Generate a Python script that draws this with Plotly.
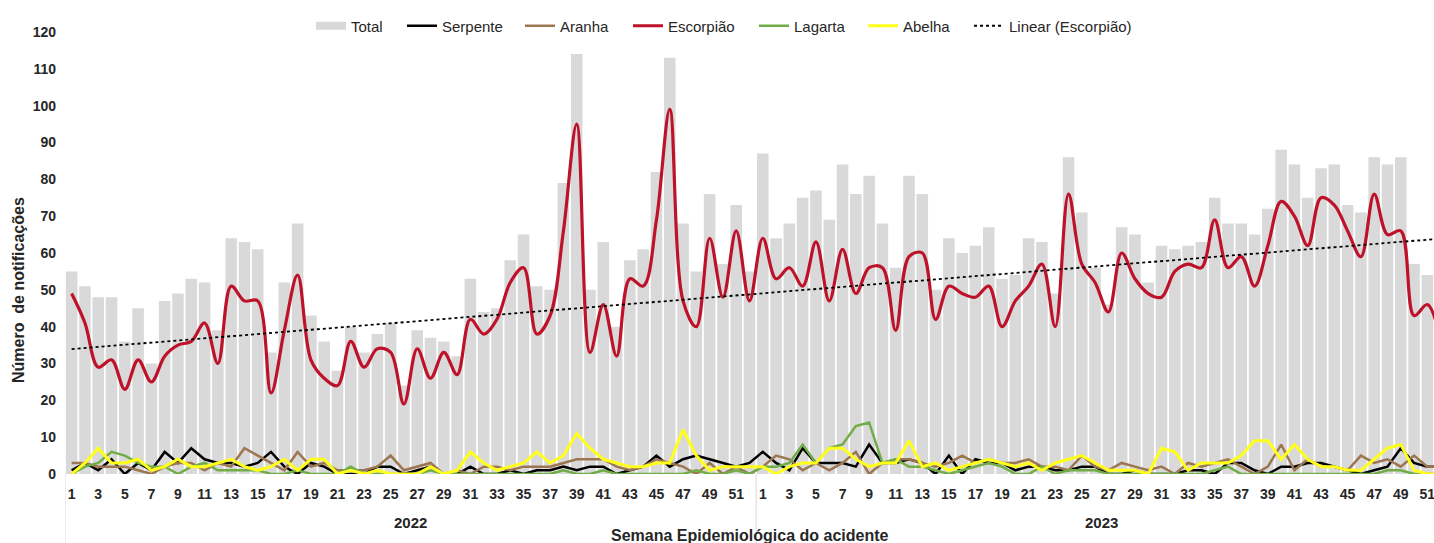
import numpy as np
import plotly.graph_objects as go

# ---------------- data ----------------
years = ["2022"] * 52 + ["2023"] * 52
weeks = list(range(1, 53)) + list(range(1, 53))

total = [55, 51, 48, 48, 36, 45, 30, 47, 49, 53,
         52, 39, 64, 63, 61, 33, 52, 68, 43, 36,
         28, 40, 33, 38, 41, 24, 39, 37, 36, 32,
         53, 44, 45, 58, 65, 51, 50, 79, 114, 50,
         63, 40, 58, 61, 82, 113, 68, 55, 76, 57,
         73, 55,
         87, 64, 68, 75, 77, 69, 84, 76, 81, 68,
         56, 81, 76, 50, 64, 60, 62, 67, 53, 54,
         64, 63, 49, 86, 71, 56, 46, 67, 65, 52,
         62, 61, 62, 63, 75, 68, 68, 65, 72, 88,
         84, 75, 83, 84, 73, 71, 86, 84, 86, 57,
         54, 50]

serpente = [1, 3, 1, 4, 0, 3, 1, 6, 3, 7,
            4, 3, 3, 2, 3, 6, 2, 0, 3, 2,
            0, 0, 0, 2, 2, 0, 1, 2, 0, 0,
            2, 0, 0, 1, 0, 1, 1, 2, 1, 2,
            2, 0, 1, 2, 5, 2, 4, 5, 4, 3,
            2, 3,
            6, 3, 1, 7, 3, 3, 3, 2, 8, 3,
            3, 4, 3, 0, 5, 0, 4, 3, 3, 1,
            2, 2, 1, 1, 2, 2, 0, 0, 1, 0,
            0, 0, 1, 1, 0, 3, 3, 1, 0, 2,
            2, 3, 3, 2, 1, 0, 1, 2, 7, 3,
            2, 2]

aranha = [3, 3, 2, 2, 2, 1, 0, 2, 3, 3,
          1, 3, 2, 7, 5, 3, 1, 6, 2, 3,
          1, 1, 1, 2, 5, 1, 2, 3, 0, 1,
          0, 2, 2, 1, 2, 2, 2, 3, 4, 4,
          4, 2, 1, 2, 4, 3, 2, 0, 3, 0,
          2, 0,
          2, 5, 4, 1, 3, 1, 3, 6, 0, 3,
          4, 4, 3, 2, 3, 5, 3, 4, 3, 3,
          4, 2, 2, 1, 5, 2, 1, 3, 2, 1,
          2, 0, 3, 2, 3, 4, 2, 0, 2, 8,
          1, 4, 2, 2, 1, 5, 3, 4, 2, 5,
          2, 2]

escorpiao = [49, 41, 29, 31, 23, 31, 25, 32, 35, 36,
             41, 30, 51, 47, 47, 22, 39, 54, 31, 26,
             24, 36, 29, 34, 33, 19, 34, 26, 33, 27,
             42, 38, 42, 52, 56, 38, 43, 66, 95, 33,
             46, 32, 53, 51, 69, 99, 47, 40, 64, 48,
             66, 47,
             64, 53, 56, 51, 63, 47, 61, 49, 56, 56,
             39, 59, 60, 42, 51, 49, 48, 51, 40, 47,
             51, 57, 40, 76, 57, 52, 44, 60, 53, 49,
             48, 55, 57, 56, 69, 56, 59, 51, 62, 74,
             70, 62, 75, 73, 66, 59, 76, 65, 66, 43,
             46, 36]

lagarta = [0, 2, 3, 6, 5, 3, 2, 2, 0, 2,
           3, 1, 1, 1, 1, 0, 0, 1, 0, 0,
           0, 2, 0, 0, 0, 0, 0, 1, 0, 0,
           0, 0, 0, 0, 0, 0, 0, 1, 0, 0,
           1, 0, 0, 0, 0, 0, 0, 1, 0, 0,
           1, 0,
           2, 2, 3, 8, 3, 7, 8, 13, 14, 3,
           4, 2, 2, 1, 0, 1, 2, 3, 2, 0,
           0, 2, 0, 1, 1, 1, 0, 0, 0, 0,
           0, 0, 0, 0, 1, 2, 0, 0, 0, 0,
           0, 0, 0, 0, 0, 0, 0, 1, 1, 0,
           0, 0]

abelha = [0, 3, 7, 3, 3, 4, 1, 2, 4, 2,
          2, 3, 4, 2, 1, 2, 4, 1, 4, 4,
          0, 1, 0, 1, 0, 0, 0, 2, 0, 1,
          6, 3, 1, 2, 3, 6, 3, 5, 11, 7,
          4, 3, 2, 2, 3, 3, 12, 5, 1, 2,
          2, 2,
          2, 0, 2, 3, 3, 7, 7, 4, 2, 3,
          3, 9, 2, 3, 1, 2, 3, 4, 3, 2,
          3, 1, 3, 4, 5, 3, 1, 1, 1, 0,
          7, 6, 1, 3, 3, 3, 5, 9, 9, 4,
          8, 4, 2, 2, 1, 1, 4, 7, 8, 1,
          0, 0]

year_labels = ["2022", "2023"]

# ---------------- derived ----------------
x = np.arange(len(weeks))
tick_idx = [i for i, w in enumerate(weeks) if w % 2 == 1]
tick_txt = [str(weeks[i]) for i in tick_idx]
coef = np.polyfit(x + 1, escorpiao, 1)
trend = np.polyval(coef, x + 1)

FONT = "Liberation Sans, Arial, sans-serif"
TXT = "#262626"
L, W, H, T, B = 65, 1434, 543, 32, 69
PW, PH = W - L, H - T - B

# legend entry text start positions (px) -> one legend per entry
leg_text_px = [351, 442, 560, 668, 794, 903, 1009]
leg_names = ["legend", "legend2", "legend3", "legend4", "legend5", "legend6", "legend7"]

fig = go.Figure()
fig.add_trace(go.Bar(x=x, y=total, name="Total", marker_color="#d9d9d9",
                     marker_line_width=0, showlegend=False))
# legend swatch for the bars (legend-only, no marks)
fig.add_trace(go.Scatter(x=[None], y=[None], name="Total", mode="lines",
                         line=dict(color="#d9d9d9", width=8), legend=leg_names[0],
                         hoverinfo="skip"))
fig.add_trace(go.Scatter(x=x, y=serpente, name="Serpente", mode="lines",
                         line=dict(color="#000000", width=2.5), legend=leg_names[1]))
fig.add_trace(go.Scatter(x=x, y=aranha, name="Aranha", mode="lines",
                         line=dict(color="#9c7651", width=2.5), legend=leg_names[2]))
fig.add_trace(go.Scatter(x=x, y=escorpiao, name="Escorpião", mode="lines",
                         line=dict(color="#bd1229", width=3.2, shape="spline", smoothing=1.0),
                         legend=leg_names[3]))
fig.add_trace(go.Scatter(x=x, y=lagarta, name="Lagarta", mode="lines",
                         line=dict(color="#70ad47", width=2.5), legend=leg_names[4]))
fig.add_trace(go.Scatter(x=x, y=abelha, name="Abelha", mode="lines",
                         line=dict(color="#ffff1a", width=3), legend=leg_names[5]))
fig.add_trace(go.Scatter(x=x, y=trend, name="Linear (Escorpião)", mode="lines",
                         line=dict(color="#000000", width=1.8, dash="dot"),
                         legend=leg_names[6]))

# year separators (year index boundaries)
n22 = years.count(year_labels[0])
shapes = []
for xb in [-0.5, n22 - 0.5]:
    shapes.append(dict(type="line", xref="x", yref="paper", x0=xb, x1=xb,
                       y0=0, y1=-(H - T - PH) / PH, line=dict(color="#d9d9d9", width=1)))

annotations = []
for yl in year_labels:
    idx = [i for i, yy in enumerate(years) if yy == yl]
    annotations.append(dict(x=(idx[0] + idx[-1]) / 2, xref="x",
                            y=(474 - 522) / PH, yref="paper", yanchor="middle",
                            text=yl, showarrow=False,
                            font=dict(family=FONT, size=15, color=TXT, weight="bold")))
annotations.append(dict(x=(750 - L) / PW, xref="paper", xanchor="center",
                        y=(474 - 535) / PH, yref="paper", yanchor="middle",
                        text="Semana Epidemiológica do acidente", showarrow=False,
                        font=dict(family=FONT, size=16, color=TXT, weight="bold")))
annotations.append(dict(x=(19 - L) / PW, xref="paper", xanchor="center",
                        y=(474 - 290) / PH, yref="paper", yanchor="middle",
                        text="Número  de notificações", showarrow=False, textangle=-90,
                        font=dict(family=FONT, size=16, color=TXT, weight="bold")))

legends = {}
for nm, tx in zip(leg_names, leg_text_px):
    legends[nm] = dict(orientation="h", x=(tx - 40 - L) / PW, xanchor="left",
                       y=(474 - 26) / PH, yanchor="middle",
                       font=dict(family=FONT, size=15, color=TXT),
                       bgcolor="rgba(0,0,0,0)", borderwidth=0)

fig.update_layout(
    width=W, height=H,
    margin=dict(l=L, r=0, t=T, b=B, autoexpand=False),
    plot_bgcolor="white", paper_bgcolor="white",
    bargap=0.13,
    font=dict(family=FONT, color=TXT),
    shapes=shapes, annotations=annotations,
    xaxis=dict(range=[-0.5, 102.5], tickmode="array", tickvals=tick_idx, ticktext=tick_txt,
               showgrid=False, zeroline=False, showline=False, ticks="",
               automargin=False, ticklabeloverflow="allow",
               ticklabelstandoff=10,
               tickfont=dict(family=FONT, size=14, color=TXT, weight="bold")),
    yaxis=dict(range=[0, 120], dtick=10, showgrid=False, zeroline=False, showline=False,
               ticks="", ticklabelstandoff=8, automargin=False,
               tickfont=dict(family=FONT, size=14, color=TXT, weight="bold")),
    **legends,
)

fig.write_html("out.html", config={"displayModeBar": False},
               post_script="document.body.style.margin='0';document.body.style.overflow='hidden';")
